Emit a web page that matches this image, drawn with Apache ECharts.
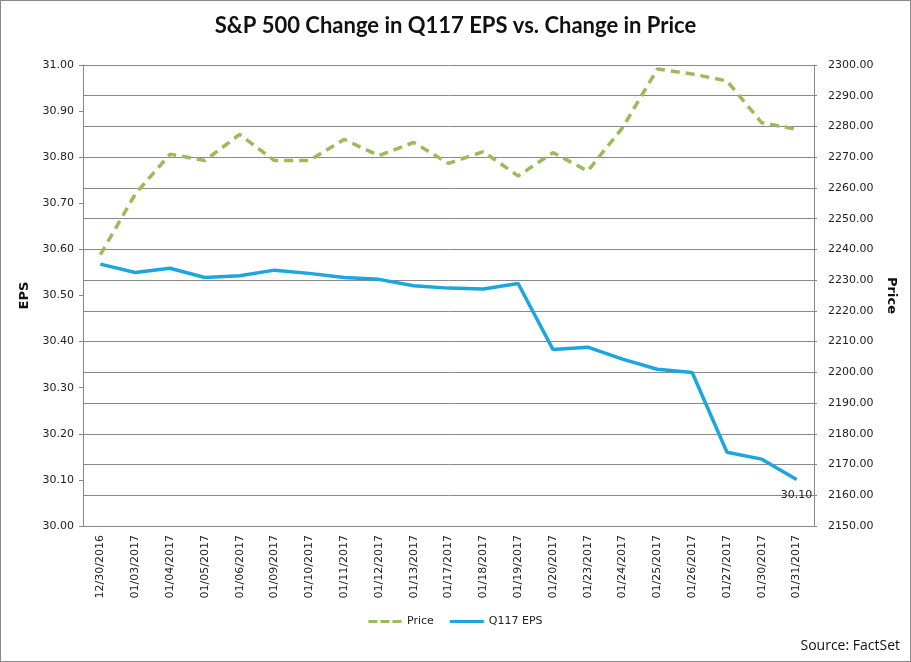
<!DOCTYPE html>
<html>
<head>
<meta charset="utf-8">
<script src="https://cdn.jsdelivr.net/npm/echarts@6/dist/echarts.min.js"></script>
<style>
html,body{margin:0;padding:0;background:#fff;}
#c{width:911px;height:662px;box-sizing:border-box;border:1px solid #8a8a8a;}
</style>
</head>
<body>
<div id="c"></div>
<script>
const categories = ["12/30/2016","01/03/2017","01/04/2017","01/05/2017","01/06/2017","01/09/2017","01/10/2017","01/11/2017","01/12/2017","01/13/2017","01/17/2017","01/18/2017","01/19/2017","01/20/2017","01/23/2017","01/24/2017","01/25/2017","01/26/2017","01/27/2017","01/30/2017","01/31/2017"];
const priceValues = [2238.3,2258.0,2271.0,2268.9,2277.4,2268.9,2268.9,2275.8,2270.5,2274.8,2268.0,2271.8,2263.9,2271.5,2265.5,2279.6,2298.7,2297.1,2294.8,2281.2,2279.1];
const epsValues = [30.568,30.550,30.559,30.539,30.543,30.555,30.548,30.539,30.535,30.521,30.516,30.514,30.526,30.383,30.388,30.362,30.340,30.333,30.160,30.145,30.101];
const title = "S&P 500 Change in Q117 EPS vs. Change in Price";
const source = "Source: FactSet";

const chart = echarts.init(document.getElementById('c'), null, {renderer:'canvas'});
const lab = {fontFamily:'DejaVu Sans', fontSize:11, color:'#222'};
const lastIdx = epsValues.length - 1;
const dashIcon = 'path://M0,0h9v3h-9z M12,0h9v3h-9z M24,0h9v3h-9z';
const solidIcon = 'path://M0,0h34v3h-34z';
chart.setOption({
  animation:false,
  backgroundColor:'#fff',
  title:{text:title,left:'center',top:9,textStyle:{fontFamily:'Lato',fontWeight:'bold',fontSize:22,color:'#111'}},
  grid:{left:82,right:96,top:64,bottom:135,containLabel:false},
  legend:{bottom:29,left:'center',itemWidth:34,itemHeight:3,itemGap:16,
    textStyle:{fontFamily:'DejaVu Sans',fontSize:11,color:'#222'},
    data:[{name:'Price',icon:dashIcon,itemStyle:{color:'#9BBB59'}},{name:'Q117 EPS',icon:solidIcon,itemStyle:{color:'#1CA6DF'}}]},
  graphic:[{type:'text',right:10,bottom:8,style:{text:source,fontFamily:'Open Sans',fontSize:14,fill:'#111'}}],
  xAxis:{type:'category',data:categories,boundaryGap:true,
    axisLine:{lineStyle:{color:'#888',width:1}},
    axisTick:{show:false},
    axisLabel:Object.assign({rotate:90,margin:9,interval:0},lab)},
  yAxis:[
    {type:'value',min:30,max:31,interval:0.1,position:'left',
      name:'EPS',nameLocation:'middle',nameGap:52,nameRotate:90,
      nameTextStyle:{fontFamily:'DejaVu Sans',fontWeight:'bold',fontSize:13,color:'#111'},
      axisLine:{show:true,lineStyle:{color:'#888'}},
      axisTick:{show:true,length:4,lineStyle:{color:'#888'}},
      splitLine:{show:false},
      axisLabel:Object.assign({margin:9,formatter:v=>v.toFixed(2)},lab)},
    {type:'value',min:2150,max:2300,interval:10,position:'right',
      name:'Price',nameLocation:'middle',nameGap:62,nameRotate:-90,
      nameTextStyle:{fontFamily:'DejaVu Sans',fontWeight:'bold',fontSize:13,color:'#111'},
      axisLine:{show:true,lineStyle:{color:'#888'}},
      axisTick:{show:true,length:3,lineStyle:{color:'#888'}},
      splitLine:{show:true,lineStyle:{color:'#888',width:1}},
      axisLabel:Object.assign({margin:14,formatter:v=>v.toFixed(2)},lab)}
  ],
  series:[
    {name:'Price',type:'line',yAxisIndex:1,data:priceValues,symbol:'none',
      lineStyle:{color:'#9BBB59',width:3.5,type:[9,6]},itemStyle:{color:'#9BBB59'},z:3},
    {name:'Q117 EPS',type:'line',yAxisIndex:0,symbol:'circle',symbolSize:0,showSymbol:true,
      data:epsValues.map((v,i)=> i===lastIdx ? {value:v,label:{show:true,position:'bottom',distance:10,formatter:p=>Number(p.value).toFixed(2),fontFamily:'DejaVu Sans',fontSize:11,color:'#222'}} : v),
      lineStyle:{color:'#1CA6DF',width:3.5},itemStyle:{color:'#1CA6DF'},z:4}
  ]
});
</script>
</body>
</html>
